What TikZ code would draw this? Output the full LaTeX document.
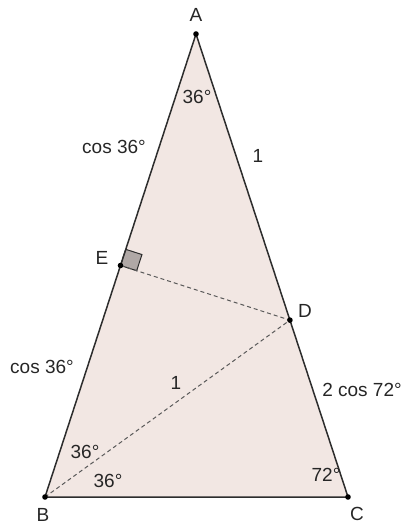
\documentclass[tikz,border=0pt]{standalone}
\usepackage{fontspec}
\setmainfont{Liberation Sans}
\usepackage{tikz}
\usetikzlibrary{calc,positioning}
\definecolor{tri}{RGB}{242,231,227}
\definecolor{edge}{RGB}{45,45,45}
\definecolor{sq}{RGB}{176,168,166}

\begin{document}
\begin{tikzpicture}[x=1pt,y=-1pt,font=\fontsize{19}{21}\selectfont,
    side/.style={edge,line width=1.5pt},
    aux/.style={gray!70!black,line width=1pt,dash pattern=on 4pt off 3pt},
    dot/.style={fill=black},
    lbl/.style={inner sep=0pt,text=black!85}]
    \useasboundingbox (0,0) rectangle (408,526);
    % vertices
    \coordinate (A) at (196,34);
    \coordinate (B) at (45,497);
    \coordinate (C) at (348,497);
    \coordinate (D) at ($(A)!0.618!(C)$);
    \coordinate (E) at ($(A)!0.5!(B)$);
    \fill[tri] (A) -- (B) -- (C) -- cycle;
    % right angle mark
    \coordinate (Ea) at ($(E)!17pt!(A)$);
    \coordinate (Ed) at ($(E)!17pt!(D)$);
    \draw[edge,fill=sq,line width=1pt] (E) -- (Ea) -- ($(Ea)+(Ed)-(E)$) -- (Ed) -- cycle;
    \draw[aux] (E) -- (D);
    \draw[aux] (B) -- (D);
    \draw[side] (A) -- (B) -- (C) -- cycle;
    \foreach \p in {A,B,C,D,E} \fill[dot] (\p) circle (2.8pt);
    % vertex names
    \node[lbl] (nA) at (196,15) {A};
    \node[lbl] (nB) at (43,515) {B};
    \node[lbl] (nC) at (357,514) {C};
    \node[lbl] (nD) at (305,311) {D};
    \node[lbl] (nE) at (102,258) {E};
    % angles and lengths
    \node[lbl] (aA) at (197,97) {36°};
    \node[lbl] (aB1) at (85,452) {36°};
    \node[lbl] (aB2) at (108,481) {36°};
    \node[lbl] (aC) at (326,475) {72°};
    \node[lbl] (lAE) at (114,147) {cos 36°};
    \node[lbl] (lEB) at (42,367) {cos 36°};
    \node[lbl] (lAC) at (258,156) {1};
    \node[lbl] (lBD) at (176,383) {1};
    \node[lbl] (lDC) at (362,390) {2 cos 72°};
\end{tikzpicture}
\end{document}
